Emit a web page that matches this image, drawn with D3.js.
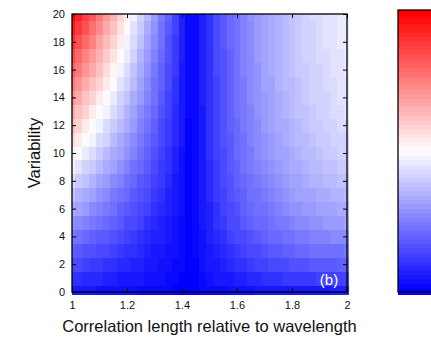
<!DOCTYPE html>
<html>
<head>
<meta charset="utf-8">
<script src="https://cdn.jsdelivr.net/npm/d3@7"></script>
<style>
  body { margin: 0; background: #fff; }
  svg { display: block; font-family: "Liberation Sans", Arial, sans-serif; }
</style>
</head>
<body>
<svg id="chart" width="431" height="337"></svg>
<script>
// grid centres (correlation length / wavelength, variability)
const xCenters = [1.000, 1.025, 1.050, 1.075, 1.100, 1.125, 1.150, 1.175, 1.200, 1.225,
                  1.250, 1.275, 1.300, 1.325, 1.350, 1.375, 1.400, 1.425, 1.450, 1.475,
                  1.500, 1.525, 1.550, 1.575, 1.600, 1.625, 1.650, 1.675, 1.700, 1.725,
                  1.750, 1.775, 1.800, 1.825, 1.850, 1.875, 1.900, 1.925, 1.950, 1.975, 2.000];
const yCenters = [0, 1, 2, 3, 4, 5, 6, 7, 8, 9, 10, 11, 12, 13, 14, 15, 16, 17, 18, 19, 20];

// colour values, -100 = blue, 0 = white, 100 = red (one row per variability)
const cellValues = [
  [-91,-91,-92,-92,-93,-93,-94,-94,-95,-95,-96,-97,-97,-98,-98,-99,-99,-100,-100,-98,-97,-97,-96,-95,-94,-94,-93,-92,-92,-91,-91,-91,-90,-90,-89,-89,-89,-89,-88,-88,-88],
  [-81,-82,-83,-84,-85,-87,-88,-89,-90,-91,-92,-93,-94,-95,-96,-98,-99,-100,-99,-97,-94,-92,-91,-89,-87,-86,-85,-83,-82,-81,-80,-79,-79,-78,-77,-77,-76,-76,-75,-75,-74],
  [-72,-73,-75,-77,-78,-80,-82,-83,-85,-86,-88,-90,-91,-93,-95,-96,-98,-100,-99,-95,-92,-89,-86,-84,-82,-80,-78,-76,-74,-73,-71,-70,-69,-68,-67,-66,-65,-64,-64,-63,-63],
  [-62,-64,-67,-69,-71,-73,-75,-78,-80,-82,-84,-86,-89,-91,-93,-95,-97,-100,-98,-94,-90,-86,-83,-80,-77,-74,-72,-70,-68,-66,-64,-63,-61,-60,-58,-57,-56,-55,-54,-54,-53],
  [-53,-55,-58,-61,-64,-66,-69,-72,-75,-77,-80,-83,-86,-88,-91,-94,-97,-99,-98,-93,-88,-84,-80,-76,-73,-70,-67,-65,-62,-60,-58,-56,-54,-53,-51,-50,-49,-48,-47,-46,-45],
  [-43,-47,-50,-53,-56,-60,-63,-66,-70,-73,-76,-80,-83,-86,-89,-93,-96,-99,-98,-92,-87,-82,-78,-73,-70,-66,-63,-60,-58,-55,-53,-51,-49,-47,-46,-44,-43,-41,-40,-39,-38],
  [-34,-38,-41,-45,-49,-53,-57,-61,-65,-68,-72,-76,-80,-84,-88,-92,-95,-99,-97,-91,-86,-80,-76,-71,-67,-63,-60,-57,-54,-51,-49,-46,-44,-42,-41,-39,-37,-36,-35,-34,-33],
  [-24,-29,-33,-38,-42,-46,-51,-55,-60,-64,-68,-73,-77,-82,-86,-90,-95,-99,-97,-91,-85,-79,-74,-69,-65,-61,-57,-54,-51,-48,-45,-43,-40,-38,-36,-35,-33,-32,-30,-29,-28],
  [-15,-20,-25,-30,-35,-40,-45,-50,-54,-59,-64,-69,-74,-79,-84,-89,-94,-99,-97,-90,-84,-78,-72,-67,-63,-59,-55,-51,-48,-45,-42,-40,-37,-35,-33,-31,-29,-28,-26,-25,-24],
  [-5,-11,-16,-22,-27,-33,-38,-44,-49,-55,-60,-66,-71,-77,-82,-88,-93,-99,-97,-90,-83,-77,-71,-66,-61,-57,-53,-49,-46,-42,-40,-37,-34,-32,-30,-28,-26,-25,-23,-22,-21],
  [4,-2,-8,-14,-20,-26,-32,-38,-44,-50,-56,-62,-69,-75,-81,-87,-93,-99,-97,-89,-82,-76,-70,-65,-60,-55,-51,-47,-44,-41,-38,-35,-32,-30,-28,-26,-24,-22,-21,-19,-18],
  [14,7,0,-6,-13,-19,-26,-33,-39,-46,-52,-59,-66,-72,-79,-85,-92,-99,-97,-89,-82,-75,-69,-64,-59,-54,-50,-46,-42,-39,-36,-33,-30,-28,-26,-24,-22,-20,-19,-17,-16],
  [23,16,9,2,-6,-13,-20,-27,-34,-41,-49,-56,-63,-70,-77,-84,-91,-99,-97,-89,-82,-75,-69,-63,-58,-53,-49,-45,-41,-38,-34,-32,-29,-26,-24,-22,-20,-18,-17,-15,-14],
  [32,25,17,9,2,-6,-14,-21,-29,-37,-45,-52,-60,-68,-75,-83,-91,-98,-97,-89,-81,-74,-68,-62,-57,-52,-48,-44,-40,-36,-33,-30,-27,-25,-23,-21,-19,-17,-15,-14,-12],
  [42,34,25,17,9,1,-8,-16,-24,-32,-41,-49,-57,-65,-74,-82,-90,-98,-97,-88,-81,-74,-68,-62,-57,-52,-47,-43,-39,-35,-32,-29,-26,-24,-22,-19,-18,-16,-14,-12,-11],
  [51,43,34,25,16,7,-1,-10,-19,-28,-37,-45,-54,-63,-72,-81,-89,-98,-97,-88,-81,-74,-67,-61,-56,-51,-46,-42,-38,-35,-31,-28,-26,-23,-21,-18,-16,-15,-13,-11,-10],
  [61,51,42,33,23,14,5,-5,-14,-23,-33,-42,-51,-61,-70,-79,-89,-98,-96,-88,-80,-73,-67,-61,-56,-50,-46,-42,-38,-34,-31,-28,-25,-22,-20,-18,-16,-14,-12,-11,-9],
  [70,60,50,41,31,21,11,1,-9,-19,-29,-39,-49,-58,-68,-78,-88,-98,-96,-88,-80,-73,-67,-61,-55,-50,-45,-41,-37,-33,-30,-27,-24,-22,-19,-17,-15,-13,-11,-10,-8],
  [80,69,59,48,38,27,17,7,-4,-14,-25,-35,-46,-56,-67,-77,-87,-98,-96,-88,-80,-73,-66,-60,-55,-50,-45,-41,-37,-33,-30,-27,-24,-21,-19,-16,-14,-12,-11,-9,-8],
  [89,78,67,56,45,34,23,12,1,-10,-21,-32,-43,-54,-65,-76,-87,-98,-96,-88,-80,-73,-66,-60,-55,-49,-45,-40,-36,-33,-29,-26,-23,-21,-18,-16,-14,-12,-10,-9,-7],
  [99,87,76,64,52,41,29,18,6,-5,-17,-28,-40,-51,-63,-75,-86,-98,-96,-88,-80,-73,-66,-60,-54,-49,-44,-40,-36,-32,-29,-26,-23,-20,-18,-15,-13,-11,-10,-8,-7]
];

const xTicks = [1, 1.2, 1.4, 1.6, 1.8, 2];
const yTicks = [0, 2, 4, 6, 8, 10, 12, 14, 16, 18, 20];
const xTitle = "Correlation length relative to wavelength";
const yTitle = "Variability";
const panelTag = "(b)";

const svg = d3.select("#chart");

// zona del grafico
const plot = { left: 72, right: 347, top: 14, bottom: 292 };
const x = d3.scaleLinear().domain([1, 2]).range([plot.left, plot.right]);
const y = d3.scaleLinear().domain([0, 20]).range([plot.bottom, plot.top]);

// colormap blu-bianco-rosso a 64 livelli
const nLevels = 64;
const ramp = d3.scaleLinear().domain([-100, 0, 100]).range(["#0000ff", "#ffffff", "#ff0000"]);
const color = v => {
    const k = Math.round((v + 100) / 200 * (nLevels - 1));
    return ramp(k / (nLevels - 1) * 200 - 100);
};

svg.append("clipPath").attr("id", "clip")
    .append("rect")
    .attr("x", plot.left).attr("y", plot.top)
    .attr("width", plot.right - plot.left + 2)
    .attr("height", plot.bottom - plot.top + 3);

const cw = x(xCenters[1]) - x(xCenters[0]);
const ch = y(yCenters[0]) - y(yCenters[1]);

const cells = [];
cellValues.forEach((row, j) => {
    row.forEach((v, i) => cells.push({ xv: xCenters[i], yv: yCenters[j], v }));
});

svg.append("g")
    .attr("clip-path", "url(#clip)")
    .selectAll("rect")
    .data(cells)
    .enter().append("rect")
    .attr("x", d => x(d.xv) - cw / 2)
    .attr("y", d => y(d.yv) - ch / 2)
    .attr("width", cw + 0.5)
    .attr("height", ch + 0.5)
    .attr("fill", d => color(d.v))
    .attr("shape-rendering", "crispEdges");

// assi con tacche verso l'interno
const tickLen = 4;
const gLeft = svg.append("g").attr("transform", `translate(${plot.left},0)`)
    .call(d3.axisLeft(y).tickValues(yTicks).tickSize(-tickLen).tickSizeOuter(0).tickPadding(7));
const gBottom = svg.append("g").attr("transform", `translate(0,${plot.bottom})`)
    .call(d3.axisBottom(x).tickValues(xTicks).tickSize(-tickLen).tickSizeOuter(0).tickPadding(9)
        .tickFormat(d3.format("~g")));
const gRight = svg.append("g").attr("transform", `translate(${plot.right},0)`)
    .call(d3.axisRight(y).tickValues(yTicks).tickSize(-tickLen).tickSizeOuter(0).tickFormat(""));
const gTop = svg.append("g").attr("transform", `translate(0,${plot.top})`)
    .call(d3.axisTop(x).tickValues(xTicks).tickSize(-tickLen).tickSizeOuter(0).tickFormat(""));

[gLeft, gBottom, gRight, gTop].forEach(g => {
    g.select(".domain").remove();
    g.selectAll(".tick line").attr("stroke", "#000").attr("stroke-width", 1);
    g.selectAll("text").attr("fill", "#111").style("font-size", "11px");
});

svg.append("rect")
    .attr("x", plot.left).attr("y", plot.top)
    .attr("width", plot.right - plot.left)
    .attr("height", plot.bottom - plot.top)
    .attr("fill", "none")
    .attr("stroke", "#000")
    .attr("stroke-width", 1.3);

svg.append("text")
    .attr("x", 329).attr("y", 285)
    .attr("text-anchor", "middle")
    .attr("fill", "#fff")
    .style("font-size", "15px")
    .text(panelTag);

svg.append("text")
    .attr("x", (plot.left + plot.right) / 2).attr("y", 332)
    .attr("text-anchor", "middle")
    .attr("fill", "#111")
    .style("font-size", "16.5px")
    .text(xTitle);

svg.append("text")
    .attr("transform", `translate(40,${(plot.top + plot.bottom) / 2}) rotate(-90)`)
    .attr("text-anchor", "middle")
    .attr("fill", "#111")
    .style("font-size", "16.5px")
    .text(yTitle);

// barra dei colori (tagliata sul bordo destro)
const bar = { left: 398, top: 10, bottom: 292 };
const cb = d3.scaleLinear().domain([-100, 100]).range([bar.bottom, bar.top]);
const levels = d3.range(nLevels).map(k => k / (nLevels - 1) * 200 - 100);
const bandH = (bar.bottom - bar.top) / nLevels;

svg.append("g")
    .selectAll("rect")
    .data(levels)
    .enter().append("rect")
    .attr("x", bar.left)
    .attr("y", (d, k) => bar.bottom - (k + 1) * bandH)
    .attr("width", 40)
    .attr("height", (d, k) => k === 0 ? bandH + 3 : bandH + 0.5)
    .attr("fill", d => ramp(d))
    .attr("shape-rendering", "crispEdges");

svg.append("rect")
    .attr("x", bar.left).attr("y", cb(100))
    .attr("width", 40)
    .attr("height", cb(-100) - cb(100))
    .attr("fill", "none")
    .attr("stroke", "#000")
    .attr("stroke-width", 1.3);
</script>
</body>
</html>
